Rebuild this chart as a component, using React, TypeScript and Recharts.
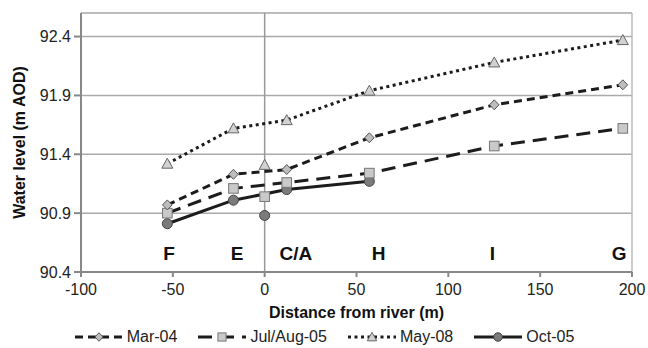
import { ScatterChart, Scatter, XAxis, YAxis, CartesianGrid, ReferenceLine, Label } from 'recharts'

// sampling sites along the transect
const siteNames = ['F', 'E', 'C/A', 'H', 'I', 'G']
const siteDistance = [-53, -17, 12, 57, 125, 195]
const labelDistance = [-52, -15, 17, 62, 124, 193]
const labelLevel = 90.56

// water levels (m AOD) per survey, in site order
const mar04 = [90.97, 91.23, 91.27, 91.54, 91.82, 91.99]
const julAug05 = [90.9, 91.11, 91.16, 91.24, 91.47, 91.62]
const may08 = [91.32, 91.62, 91.69, 91.94, 92.18, 92.37]
const oct05 = [90.81, 91.01, 91.1, 91.17]

// river stage readings at distance 0
const riverDistance = 0
const riverJulAug05 = 91.04
const riverMay08 = 91.31
const riverOct05 = 90.88

const xTicks = [-100, -50, 0, 50, 100, 150, 200]
const yTicks = [90.4, 90.9, 91.4, 91.9, 92.4]

const FONT = '"Liberation Sans", Arial, sans-serif'
const INK = '#1c1c1c'

const toRows = (vals: number[]) => vals.map((y, i) => ({ x: siteDistance[i], y }))
const labelRows = siteNames.map((name, i) => ({ x: labelDistance[i], y: labelLevel, name }))

const Diamond = ({ cx, cy, s = 1 }: any) => (
  <polygon
    points={`${cx},${cy - 5 * s} ${cx + 4.8 * s},${cy} ${cx},${cy + 5 * s} ${cx - 4.8 * s},${cy}`}
    fill="#bdbdbd"
    stroke="#555"
    strokeWidth={1}
  />
)
const Square = ({ cx, cy, s = 1 }: any) => (
  <rect x={cx - 4.8 * s} y={cy - 4.8 * s} width={9.6 * s} height={9.6 * s} fill="#c9c9c9" stroke="#777" strokeWidth={1} />
)
const Triangle = ({ cx, cy, s = 1 }: any) => (
  <polygon
    points={`${cx},${cy - 5.5 * s} ${cx + 5.5 * s},${cy + 4.5 * s} ${cx - 5.5 * s},${cy + 4.5 * s}`}
    fill="#d2d2d2"
    stroke="#666"
    strokeWidth={1}
  />
)
const Dot = ({ cx, cy, s = 1 }: any) => <circle cx={cx} cy={cy} r={5 * s} fill="#7b7b7b" stroke="#444" strokeWidth={1} />

const SiteLabel = ({ cx, cy, payload }: any) => (
  <text x={cx} y={cy} textAnchor="middle" dominantBaseline="central" fontFamily={FONT} fontSize={19} fontWeight="bold" fill="#111">
    {payload.name}
  </text>
)

const series = [
  { name: 'Mar-04', dash: '8 5', shape: Diamond },
  { name: 'Jul/Aug-05', dash: '14 8', shape: Square },
  { name: 'May-08', dash: '3 3.5', shape: Triangle },
  { name: 'Oct-05', dash: undefined, shape: Dot },
]

function LegendItem({ dash, shape: Shape, name }: any) {
  return (
    <div style={{ display: 'flex', alignItems: 'center', gap: 3 }}>
      <svg width={50} height={14}>
        <line x1={1} y1={7} x2={49} y2={7} stroke={INK} strokeWidth={3} strokeDasharray={dash} />
        <Shape cx={25} cy={7} s={0.85} />
      </svg>
      <span>{name}</span>
    </div>
  )
}

export default function App() {
  return (
    <div style={{ position: 'absolute', left: 0, top: 0, width: 648, height: 348, background: '#fff' }}>
      <ScatterChart width={648} height={348} margin={{ top: 13, right: 16, left: 0, bottom: 26 }}>
        <CartesianGrid vertical={false} stroke="#aaa" strokeWidth={1.5} />
        <XAxis
          type="number"
          dataKey="x"
          domain={[-100, 200]}
          ticks={xTicks}
          height={50}
          tickSize={5}
          tickMargin={7}
          stroke="#888"
          strokeWidth={2}
          tick={{ fill: '#222', fontSize: 16, fontFamily: FONT }}
        >
          <Label
            content={({ viewBox }: any) => (
              <text
                x={viewBox.x + viewBox.width / 2}
                y={viewBox.y + 40}
                textAnchor="middle"
                dominantBaseline="central"
                fontFamily={FONT}
                fontSize={16}
                fontWeight="bold"
                fill="#111"
              >
                Distance from river (m)
              </text>
            )}
          />
        </XAxis>
        <YAxis
          type="number"
          dataKey="y"
          domain={[90.4, 92.6]}
          ticks={yTicks}
          width={81}
          tickSize={7}
          tickMargin={3}
          stroke="#888"
          strokeWidth={2}
          tickFormatter={(v: number) => v.toFixed(1)}
          tick={{ fill: '#222', fontSize: 16, fontFamily: FONT }}
        >
          <Label
            content={({ viewBox }: any) => {
              const cx = viewBox.x + 19
              const cy = viewBox.y + viewBox.height / 2
              return (
                <text
                  x={cx}
                  y={cy}
                  transform={`rotate(-90 ${cx} ${cy})`}
                  textAnchor="middle"
                  dominantBaseline="central"
                  fontFamily={FONT}
                  fontSize={16}
                  fontWeight="bold"
                  fill="#111"
                >
                  Water level (m AOD)
                </text>
              )
            }}
          />
        </YAxis>
        <ReferenceLine y={92.6} stroke="#bbb" strokeWidth={1.5} />
        <ReferenceLine x={200} stroke="#bbb" strokeWidth={1.5} />
        <ReferenceLine x={0} stroke="#999" strokeWidth={1.5} />

        <Scatter data={labelRows} shape={SiteLabel} isAnimationActive={false} />

        <Scatter
          data={toRows(oct05)}
          line={{ stroke: INK, strokeWidth: 3 }}
          shape={Dot}
          isAnimationActive={false}
        />
        <Scatter
          data={toRows(julAug05)}
          line={{ stroke: INK, strokeWidth: 3, strokeDasharray: '14 8' }}
          shape={Square}
          isAnimationActive={false}
        />
        <Scatter
          data={toRows(mar04)}
          line={{ stroke: INK, strokeWidth: 3, strokeDasharray: '8 5' }}
          shape={Diamond}
          isAnimationActive={false}
        />
        <Scatter
          data={toRows(may08)}
          line={{ stroke: INK, strokeWidth: 3, strokeDasharray: '3 3.5' }}
          shape={Triangle}
          isAnimationActive={false}
        />

        <Scatter data={[{ x: riverDistance, y: riverOct05 }]} shape={Dot} isAnimationActive={false} />
        <Scatter data={[{ x: riverDistance, y: riverJulAug05 }]} shape={Square} isAnimationActive={false} />
        <Scatter data={[{ x: riverDistance, y: riverMay08 }]} shape={Triangle} isAnimationActive={false} />
      </ScatterChart>
      <div
        style={{
          position: 'absolute',
          left: 0,
          top: 327,
          width: 648,
          display: 'flex',
          justifyContent: 'center',
          gap: 20,
          fontFamily: FONT,
          fontSize: 16,
          color: '#222',
          lineHeight: '20px',
        }}
      >
        {series.map((s) => (
          <LegendItem key={s.name} {...s} />
        ))}
      </div>
    </div>
  )
}
